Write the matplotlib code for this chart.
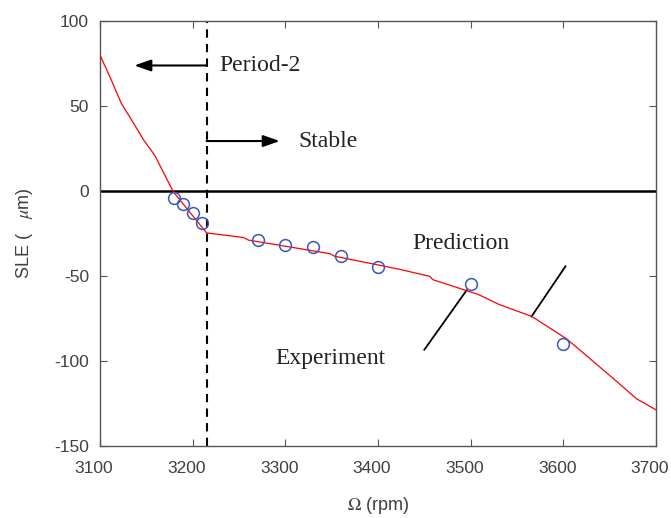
import matplotlib
matplotlib.use("Agg")
import matplotlib.pyplot as plt
from matplotlib.transforms import ScaledTranslation

# Prediction curve (rpm, SLE um)
pred_x = [3100, 3112, 3123, 3136, 3147, 3159, 3179, 3215, 3255, 3260, 3348, 3353, 3423,
          3456, 3459, 3508, 3531, 3566, 3603, 3614, 3657, 3679, 3700]
pred_y = [80, 65.5, 51.5, 40, 30, 21, -0.5, -24.8, -27.5, -29, -37, -38.5, -46.2,
          -50.4, -52.3, -61, -67, -74, -87, -92, -112, -122.5, -129]

# Experiment points
exp_x = [3180, 3190, 3200, 3210, 3270, 3300, 3330, 3360, 3400, 3500, 3600]
exp_y = [-4, -8, -13, -19, -29, -32, -33, -38.5, -45, -55, -90]

boundary = 3215
xticks = [3100, 3200, 3300, 3400, 3500, 3600, 3700]
yticks = [-150, -100, -50, 0, 50, 100]

plt.rcParams['mathtext.fontset'] = 'stix'
plt.rcParams['axes.unicode_minus'] = False
fig = plt.figure(figsize=(6.71, 5.18), dpi=100)
ax = fig.add_axes([100/671, 1 - 445.5/518, 556/671, 424.5/518])

ax.plot(pred_x, pred_y, color='#ff0000', lw=0.9, zorder=3)
ax.plot(exp_x, exp_y, 'o', mfc='none', mec='#3a57b8', mew=1.1, ms=8.5, zorder=4)
ax.axhline(0, color='black', lw=1.8, zorder=2)
ax.axvline(boundary, color='black', lw=1.5, ls=(0, (4, 3)), zorder=2)

ax.set_xlim(3100, 3700)
ax.set_ylim(-150, 100)
ax.set_xticks(xticks)
ax.set_yticks(yticks)
ax.tick_params(direction='in', top=True, right=True, length=5, width=0.8,
               colors='#555555', labelcolor='#404040', labelsize=12.5)
ax.tick_params(axis='x', pad=11)
ax.tick_params(axis='y', pad=8)
shift = ScaledTranslation(-6/100, 0, fig.dpi_scale_trans)
for lab in ax.get_xticklabels():
    lab.set_family('Liberation Sans')
    lab.set_transform(lab.get_transform() + shift)
for lab in ax.get_yticklabels():
    lab.set_family('Liberation Sans')
for s in ax.spines.values():
    s.set_color('#555555')
    s.set_linewidth(1.0)

serif = 'Liberation Serif'
# Period-2 arrow
ax.annotate('', xy=(3137, 73.8), xytext=(boundary, 73.8),
            arrowprops=dict(arrowstyle='-|>,head_length=1.0,head_width=0.35',
                            color='black', lw=1.5, shrinkA=0, shrinkB=0))
ax.text(3229, 73.8, 'Period-2', family=serif, fontsize=17, va='center', ha='left', color='#222222')
# Stable arrow
ax.annotate('', xy=(3294, 29.3), xytext=(boundary, 29.3),
            arrowprops=dict(arrowstyle='-|>,head_length=1.0,head_width=0.35',
                            color='black', lw=1.5, shrinkA=0, shrinkB=0))
ax.text(3314, 29.3, 'Stable', family=serif, fontsize=17, va='center', ha='left', color='#222222')

# Leader lines
ax.plot([3450, 3495.6], [-93.6, -58.6], color='black', lw=1.3)
ax.plot([3565.7, 3602.3], [-74, -44.5], color='black', lw=1.3)
ax.text(3289, -98.8, 'Experiment', family=serif, fontsize=17, va='center', ha='left', color='#222222')
ax.text(3437, -31, 'Prediction', family=serif, fontsize=17, va='center', ha='left', color='#222222')

ax.set_xlabel(r'$\Omega$ (rpm)', fontsize=13, color='#404040', family='Liberation Sans', labelpad=14)
ax.set_ylabel(r'SLE (   $\mu$m)', fontsize=13, color='#404040', family='Liberation Sans', labelpad=14)

fig.savefig('out.png', dpi=100)
